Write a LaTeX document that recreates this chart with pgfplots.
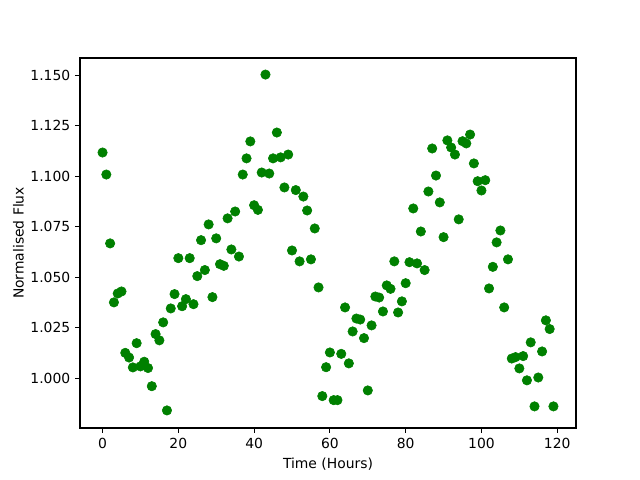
\documentclass[border=0pt]{standalone}
\usepackage{pgfplots}
\pgfplotsset{compat=1.18}
\usepackage{fontspec}
\setmainfont{DejaVu Sans}
\definecolor{mplgreen}{HTML}{008000}
\begin{document}
\begin{tikzpicture}
\path (-57.6pt,-37.44pt) rectangle (403.2pt,308.16pt);
\begin{axis}[
  at={(0,0)}, anchor=south west,
  scale only axis, width=357.12pt, height=266.4pt,
  xmin=-5.95, xmax=124.95, ymin=0.9753, ymax=1.1585,
  xtick={0,20,40,60,80,100,120},
  ytick={1.000,1.025,1.050,1.075,1.100,1.125,1.150},
  yticklabel style={/pgf/number format/.cd,fixed,fixed zerofill,precision=3},
  /pgf/number format/assume math mode=true,
  tick align=outside, tick pos=left,
  major tick length=3.5pt,
  tick style={black, line width=0.8pt},
  axis line style={line width=0.8pt},
  ticklabel style={font=\fontsize{10}{12}\selectfont},
  label style={font=\fontsize{10}{12}\selectfont},
  xlabel={Time (Hours)}, ylabel={Normalised Flux},
  ylabel style={yshift=-2pt},
]
\addplot[only marks, mark=*, mark size=3.4pt, color=mplgreen, mark options={draw=none, fill=mplgreen}] coordinates {
(0,1.1117)(1,1.1008)(2,1.0667)(3,1.0375)(4,1.0419)(5,1.0429)(6,1.0125)(7,1.0102)(8,1.0053)(9,1.0173)
(10,1.0058)(11,1.0081)(12,1.0050)(13,0.9960)(14,1.0218)(15,1.0187)(16,1.0276)(17,0.9840)(18,1.0345)(19,1.0416)
(20,1.0594)(21,1.0356)(22,1.0391)(23,1.0594)(24,1.0366)(25,1.0505)(26,1.0683)(27,1.0535)(28,1.0761)(29,1.0401)
(30,1.0692)(31,1.0564)(32,1.0556)(33,1.0791)(34,1.0637)(35,1.0825)(36,1.0602)(37,1.1008)(38,1.1088)(39,1.1172)
(40,1.0856)(41,1.0833)(42,1.1018)(43,1.1503)(44,1.1013)(45,1.1088)(46,1.1216)(47,1.1093)(48,1.0944)(49,1.1107)
(50,1.0632)(51,1.0931)(52,1.0578)(53,1.0899)(54,1.0830)(55,1.0588)(56,1.0741)(57,1.0449)(58,0.9911)(59,1.0054)
(60,1.0127)(61,0.9891)(62,0.9891)(63,1.0120)(64,1.0350)(65,1.0073)(66,1.0231)(67,1.0295)(68,1.0290)(69,1.0198)
(70,0.9939)(71,1.0261)(72,1.0404)(73,1.0399)(74,1.0330)(75,1.0459)(76,1.0442)(77,1.0578)(78,1.0325)(79,1.0380)
(80,1.0470)(81,1.0574)(82,1.0840)(83,1.0568)(84,1.0726)(85,1.0535)(86,1.0924)(87,1.1137)(88,1.1003)(89,1.0870)
(90,1.0698)(91,1.1177)(92,1.1142)(93,1.1107)(94,1.0786)(95,1.1173)(96,1.1162)(97,1.1206)(98,1.1063)(99,1.0975)
(100,1.0929)(101,1.0980)(102,1.0444)(103,1.0551)(104,1.0672)(105,1.0731)(106,1.0350)(107,1.0588)(108,1.0097)(109,1.0104)
(110,1.0048)(111,1.0109)(112,0.9989)(113,1.0177)(114,0.9860)(115,1.0003)(116,1.0132)(117,1.0286)(118,1.0243)(119,0.9860)
};
\end{axis}
\end{tikzpicture}
\end{document}
